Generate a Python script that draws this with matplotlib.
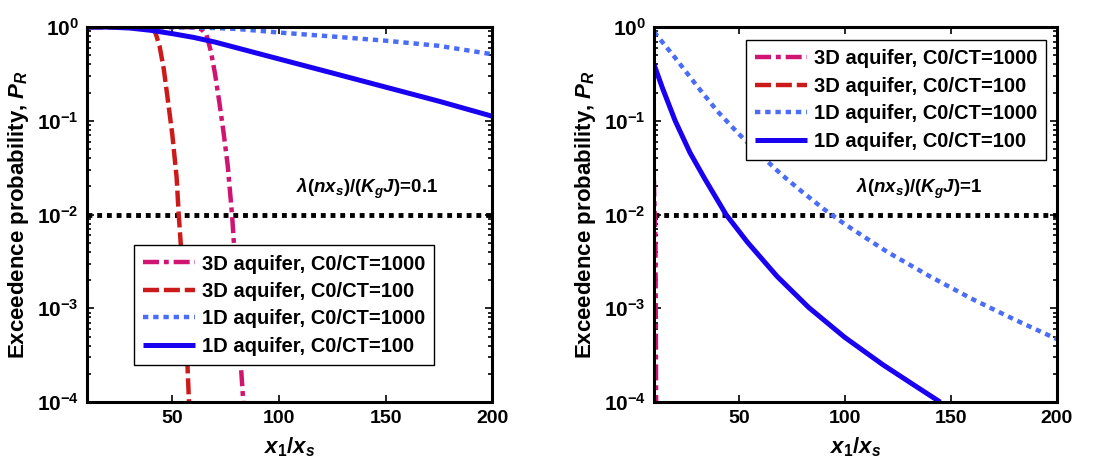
import matplotlib
matplotlib.use("Agg")
import matplotlib.pyplot as plt
from matplotlib.ticker import LogLocator, FixedLocator, NullFormatter

plt.rcParams['font.family'] = ['Liberation Sans', 'DejaVu Sans']
plt.rcParams['font.weight'] = 'bold'
plt.rcParams['mathtext.fontset'] = 'custom'
plt.rcParams['mathtext.rm'] = 'Liberation Sans:bold'
plt.rcParams['mathtext.it'] = 'Liberation Sans:bold:italic'
plt.rcParams['mathtext.bf'] = 'Liberation Sans:bold'

# ---------------- data ----------------
labels = ["3D aquifer, C0/CT=1000", "3D aquifer, C0/CT=100",
          "1D aquifer, C0/CT=1000", "1D aquifer, C0/CT=100"]

# Left panel: lambda(n xs)/(Kg J) = 0.1
L_x_3d1000 = [10, 50, 60, 62, 64, 66, 68, 70, 72, 74, 76, 78, 79, 80.5, 82, 83.4]
L_y_3d1000 = [1.0, 1.0, 0.998, 0.99, 0.93, 0.83, 0.56, 0.32, 0.16, 0.076,
              0.033, 0.010, 0.0045, 0.001, 2.8e-4, 9e-5]
L_x_3d100 = [10, 30, 38, 40, 42, 44, 46, 48, 50, 52, 53, 54.5, 55.8, 57, 57.9]
L_y_3d100 = [1.0, 1.0, 0.99, 0.955, 0.88, 0.63, 0.355, 0.16, 0.071, 0.025,
             0.010, 0.0032, 0.001, 2.8e-4, 9e-5]
L_x_1d1000 = [10, 40, 60, 70, 80, 90, 100, 125, 150, 175, 200]
L_y_1d1000 = [1.0, 1.0, 0.99, 0.977, 0.955, 0.916, 0.875, 0.794, 0.716, 0.631, 0.513]
L_x_1d100 = [10, 20, 30, 40, 50, 60, 70, 100, 125, 150, 175, 200]
L_y_1d100 = [1.0, 1.0, 0.977, 0.923, 0.851, 0.776, 0.692, 0.457, 0.324, 0.229, 0.162, 0.112]

# Right panel: lambda(n xs)/(Kg J) = 1
R_x_3d1000 = [9.0, 10.0, 10.7, 10.9, 11.0]
R_y_3d1000 = [1.0, 0.02, 0.005, 5e-4, 8e-5]
R_x_3d100 = [5, 8, 9]
R_y_3d100 = [1.0, 0.01, 1e-4]
R_x_1d1000 = [10, 20, 30, 40, 50, 60, 70, 80, 90, 100, 120, 140, 160, 180, 200]
R_y_1d1000 = [0.89, 0.47, 0.24, 0.126, 0.0724, 0.0437, 0.0269, 0.0174, 0.0115,
              0.0079, 0.0040, 0.0022, 0.00126, 7.6e-4, 4.7e-4]
R_x_1d100 = [10, 14, 20, 27, 34, 44, 54, 68, 83, 100, 118, 133, 145]
R_y_1d100 = [0.40, 0.224, 0.10, 0.0457, 0.024, 0.010, 0.0051, 0.0022, 0.00102,
             4.9e-4, 2.5e-4, 1.5e-4, 1.0e-4]

threshold = 1e-2
xticks = [50, 100, 150, 200]
annot = [r"$\lambda(nx_s)/(K_gJ)$=0.1", r"$\lambda(nx_s)/(K_gJ)$=1"]
annot_x = [108, 105.3]
annot_y = 0.0186

styles = [dict(color='#CF1471', ls=(0, (3.6, 1.1, 1.1, 1.1)), lw=3.2),
          dict(color='#CC1A1A', ls=(0, (3.6, 1.1)), lw=3.2),
          dict(color='#4A6CF7', ls=(0, (1.2, 1.1)), lw=3.2),
          dict(color='#1A00F0', ls='-', lw=3.6)]

fig = plt.figure(figsize=(11.16, 4.67), dpi=100)
axL = fig.add_axes([0.078, 0.139, 0.363, 0.803])
axR = fig.add_axes([0.586, 0.139, 0.361, 0.803])

panels = [
    (axL, [(L_x_3d1000, L_y_3d1000), (L_x_3d100, L_y_3d100),
           (L_x_1d1000, L_y_1d1000), (L_x_1d100, L_y_1d100)]),
    (axR, [(R_x_3d1000, R_y_3d1000), (R_x_3d100, R_y_3d100),
           (R_x_1d1000, R_y_1d1000), (R_x_1d100, R_y_1d100)]),
]

for i, (ax, series) in enumerate(panels):
    handles = []
    for (xs, ys), st, lab in zip(series, styles, labels):
        h, = ax.plot(xs, ys, label=lab, solid_capstyle='butt', dash_capstyle='butt',
                     solid_joinstyle='round', **st)
        handles.append(h)
    ax.axhline(threshold, color='black', ls=(0, (1, 1)), lw=3.5, zorder=1)
    ax.set_yscale('log')
    ax.set_xlim(10, 200)
    ax.set_ylim(1e-4, 1)
    ax.xaxis.set_major_locator(FixedLocator(xticks))
    ax.yaxis.set_major_locator(LogLocator(base=10, numticks=10))
    ax.yaxis.set_minor_locator(LogLocator(base=10, subs=range(2, 10), numticks=20))
    ax.yaxis.set_minor_formatter(NullFormatter())
    ax.tick_params(which='both', direction='in', top=True, right=True, width=1.2)
    ax.tick_params(axis='x', labelsize=14)
    ax.tick_params(axis='y', labelsize=15)
    ax.tick_params(which='major', length=5, pad=6)
    ax.tick_params(which='minor', length=3)
    for sp in ax.spines.values():
        sp.set_linewidth(2.2)
    ax.set_xlabel(r"$x_1/x_s$", fontsize=16, labelpad=6)
    ax.set_ylabel(r"Exceedence probability, $P_R$", fontsize=16, fontweight='bold', labelpad=4)
    ax.text(annot_x[i], annot_y, annot[i], fontsize=13.5, ha='left', va='center')
    common = dict(borderaxespad=0, fontsize=14.5, handlelength=2.6, labelspacing=0.42,
                  handletextpad=0.3, borderpad=0.45, fancybox=False, framealpha=1)
    if i == 0:
        leg = ax.legend(handles=handles, loc='lower left', bbox_to_anchor=(0.116, 0.099), **common)
    else:
        leg = ax.legend(handles=handles, loc='upper right', bbox_to_anchor=(0.973, 0.965), **common)
    leg.get_frame().set_edgecolor('black')
    leg.get_frame().set_linewidth(1.0)

fig.savefig("out.png", dpi=100)
